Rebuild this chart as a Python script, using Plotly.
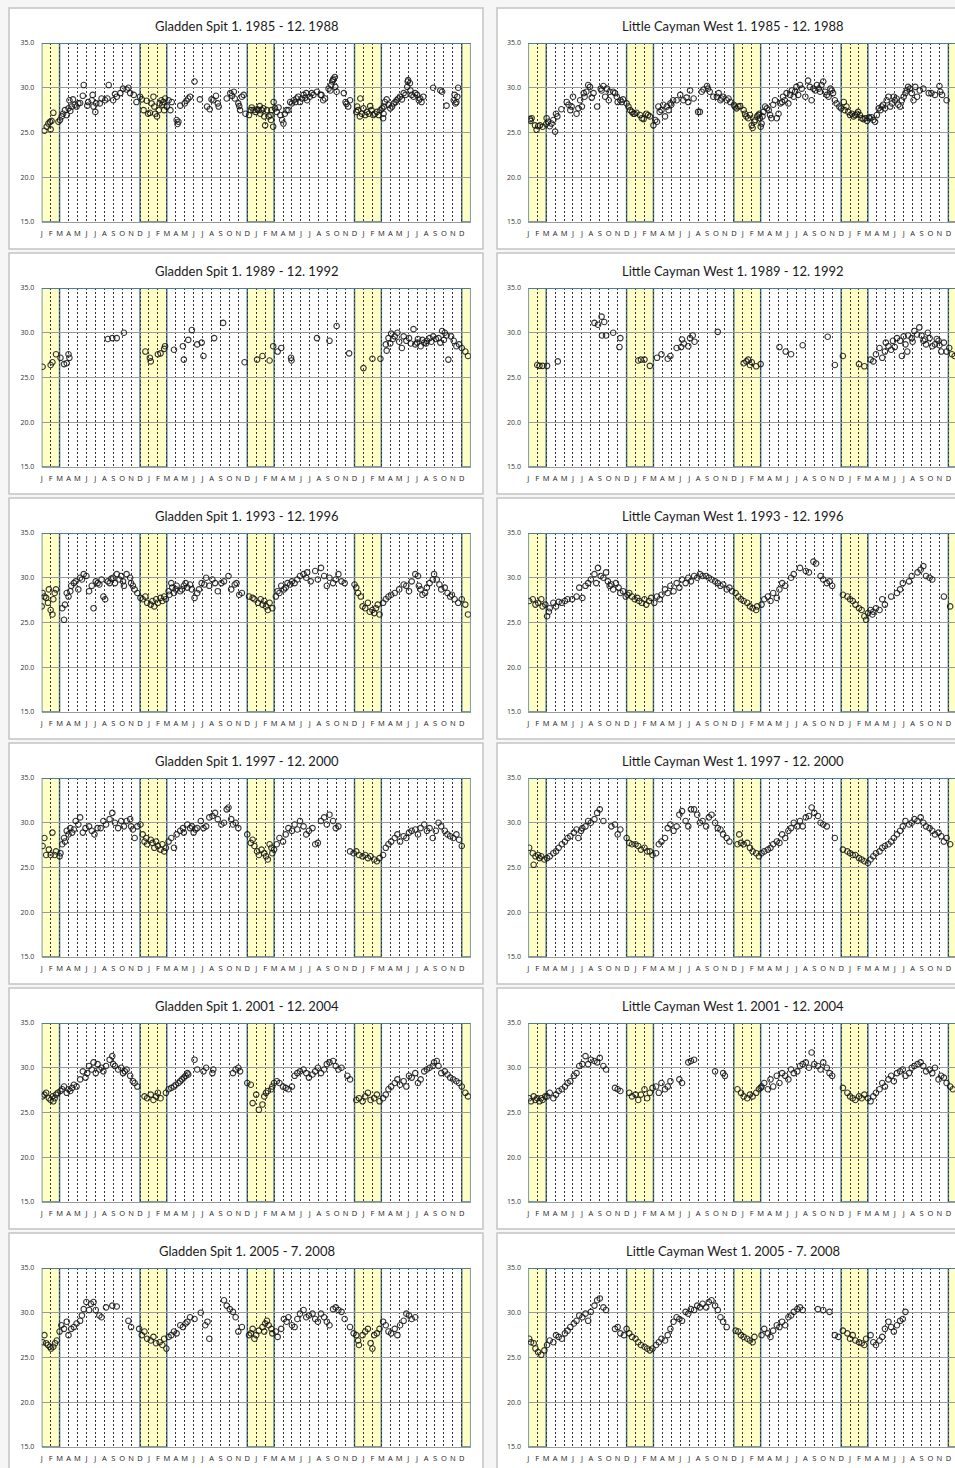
import plotly.graph_objects as go

# ---------------- data (month index from start of the 4-year window, temperature degC) ----------------
gs85_m = [0.3,0.56,0.75,0.93,1.0,1.1,1.3,1.87,2.05,2.24,2.4,2.6,2.8,3.0,3.1,3.2,3.36,3.5,3.7,3.9,4.1,4.3,4.6,4.7,5.1,5.2,5.6,5.7,5.8,6.0,6.1,6.5,6.7,7.1,7.35,7.5,8.0,8.2,8.4,8.8,9.1,9.5,9.7,9.9,10.3,10.6,
          11.0,11.2,11.4,11.75,11.9,12.1,12.3,12.5,12.6,12.7,12.9,13.1,13.2,13.4,13.5,13.6,13.7,13.8,14.0,14.2,14.4,14.55,15.1,15.2,15.3,15.5,16.0,16.2,16.4,16.6,17.1,17.7,18.5,18.8,19.0,19.2,19.5,19.7,19.8,20.7,21.1,21.3,21.5,21.6,22.0,22.1,22.2,22.4,22.6,22.8,
          23.2,23.4,23.5,23.7,23.9,24.1,24.25,24.4,24.45,24.6,24.8,24.9,25.0,25.2,25.4,25.6,25.65,25.7,25.9,25.95,26.1,26.3,26.5,26.7,26.9,27.05,27.2,27.4,27.6,27.8,28.0,28.2,28.4,28.5,28.7,28.9,29.1,29.3,29.5,29.6,29.7,30.0,30.2,30.4,30.8,31.2,31.3,31.5,31.7,32.1,32.3,32.4,32.5,32.6,32.65,32.8,32.85,33.0,33.8,34.0,34.1,34.3,34.5,
          35.2,35.3,35.4,35.6,35.65,35.8,36.0,36.2,36.4,36.6,36.75,36.9,37.1,37.3,37.5,37.7,37.9,38.1,38.2,38.25,38.3,38.4,38.6,38.8,39.0,39.2,39.4,39.6,39.7,39.9,40.1,40.3,40.5,40.7,40.9,40.95,41.0,41.2,41.25,41.4,41.6,41.8,42.0,42.2,42.35,42.5,42.7,43.8,44.6,44.8,45.3,46.1,46.2,46.3,46.4,46.5,46.6]
gs85_t = [25.2,25.65,26.0,26.2,25.35,26.3,27.2,26.2,26.4,26.8,27.1,27.5,26.95,27.7,28.6,27.4,27.9,28.7,28.1,27.9,28.25,28.3,29.1,30.3,28.0,28.4,28.6,29.2,27.9,27.3,28.25,28.25,28.8,28.6,28.8,30.3,28.6,29.3,29.0,29.4,29.9,29.8,30.0,29.4,29.2,28.4,
          29.0,28.7,27.5,28.55,27.1,27.2,28.25,29.0,27.9,27.1,26.8,27.5,28.25,28.6,28.1,28.4,27.5,28.8,27.9,28.6,27.5,28.4,26.4,25.95,26.2,28.0,28.25,28.55,28.8,29.0,30.7,28.7,27.9,27.6,28.7,28.6,29.1,28.25,27.9,28.8,29.4,29.1,29.55,28.8,28.25,27.95,27.5,29.0,29.2,27.1,
          26.95,27.5,27.8,27.5,27.3,27.6,27.5,27.95,27.1,27.5,27.7,26.8,25.8,27.5,26.8,26.95,26.4,27.5,25.65,28.4,27.7,27.3,27.8,26.95,26.4,26.0,27.1,27.5,27.5,28.4,28.25,28.6,28.4,28.8,29.0,28.4,28.8,29.2,28.9,29.4,28.6,29.0,29.4,29.2,29.55,29.2,29.2,28.6,28.8,29.9,29.7,30.3,30.7,30.85,31.0,31.2,30.1,29.55,29.4,28.4,28.2,27.9,28.6,
          27.3,27.9,27.5,26.8,28.8,27.1,27.7,26.95,27.3,27.1,27.95,27.5,26.95,27.1,27.3,26.95,27.5,27.7,26.6,27.1,27.9,28.4,28.7,28.1,27.7,27.9,28.25,28.4,28.6,28.8,29.0,28.7,29.4,29.2,30.1,30.7,30.85,30.5,29.7,29.2,29.0,29.4,29.2,28.6,28.8,28.4,29.0,30.0,29.7,29.55,28.0,28.6,29.2,28.25,28.4,29.0,30.0]

lc85_m = [0.2,0.26,0.37,0.75,0.93,1.1,1.3,1.6,2.0,2.05,2.2,2.4,2.6,2.8,3.0,3.1,3.25,3.7,4.3,4.5,4.7,4.85,5.0,5.4,5.6,5.8,6.0,6.2,6.3,6.5,6.7,6.9,7.1,7.3,7.7,8.1,8.2,8.4,8.6,8.8,9.0,9.1,9.5,9.7,9.9,10.0,10.3,10.45,10.6,
          11.0,11.2,11.4,11.6,11.75,11.9,12.1,12.5,12.7,12.9,13.2,13.4,13.6,14.0,14.2,14.4,14.55,14.7,14.9,15.1,15.3,15.5,15.7,15.9,16.0,16.2,16.6,17.0,17.35,17.7,17.9,18.1,18.5,19.0,19.2,19.4,19.6,20.0,20.1,20.3,20.7,21.1,21.3,21.5,21.6,21.8,22.2,22.4,22.6,
          23.0,23.1,23.3,23.5,23.7,24.1,24.25,24.4,24.6,24.8,25.0,25.1,25.3,25.4,25.6,25.75,25.85,25.9,26.0,26.1,26.2,26.3,26.5,26.7,26.9,27.05,27.2,27.4,27.6,27.8,28.0,28.2,28.4,28.5,28.7,28.9,29.1,29.3,29.5,29.7,29.85,30.0,30.2,30.4,30.6,31.0,31.3,31.5,31.7,31.9,32.1,32.3,32.5,32.65,32.8,33.0,33.2,33.4,33.6,33.8,33.95,34.1,34.3,34.5,34.8,
          35.0,35.3,35.4,35.6,35.8,36.0,36.2,36.4,36.6,36.75,36.9,37.1,37.3,37.5,37.7,37.9,38.1,38.2,38.4,38.6,38.8,39.0,39.2,39.4,39.55,39.7,39.9,40.1,40.3,40.5,40.7,40.9,41.0,41.2,41.4,41.6,41.8,42.0,42.2,42.35,42.5,42.7,42.9,43.1,43.3,43.5,43.8,44.2,44.8,45.1,45.5,46.0,46.1,46.3,46.8]
lc85_t = [26.5,26.3,26.6,25.8,25.3,25.7,25.8,25.65,25.95,26.6,26.2,25.7,26.0,26.4,25.1,27.1,26.8,27.6,28.4,28.1,27.5,27.9,29.0,27.1,27.7,28.6,27.9,29.4,29.0,29.55,30.3,30.1,28.9,29.4,27.9,29.9,29.7,30.2,29.0,29.9,28.6,29.55,29.55,29.4,29.0,28.4,28.6,28.4,28.7,
          28.25,27.9,27.5,27.3,27.1,27.1,27.2,26.95,26.6,26.5,27.1,26.95,26.8,25.8,26.4,26.2,27.9,27.3,27.5,28.1,26.8,27.9,27.5,28.25,28.1,28.6,28.6,29.2,28.6,28.9,28.4,29.7,28.8,27.3,27.3,29.55,29.8,30.2,29.9,29.55,29.0,29.0,29.4,28.6,28.8,29.0,28.6,28.8,28.4,
          28.1,27.9,27.7,27.9,27.95,27.5,27.1,26.8,26.6,26.95,25.8,25.5,26.2,26.4,26.8,26.95,27.1,26.6,25.65,26.0,26.8,27.3,27.9,27.7,27.5,26.95,26.6,28.1,28.6,26.6,27.1,28.25,28.4,29.0,28.6,29.4,28.25,29.2,29.7,29.0,29.55,30.1,29.2,30.3,29.9,29.0,30.8,30.1,28.6,29.9,29.7,30.3,29.9,29.55,30.3,30.7,29.55,29.2,29.0,29.9,29.7,29.4,28.6,28.25,27.9,
          27.7,28.4,27.5,27.9,27.3,26.95,27.1,26.8,26.95,27.1,27.3,26.95,26.6,26.5,26.6,26.3,26.7,26.6,26.7,26.4,26.2,26.95,27.7,27.5,27.9,28.1,27.7,28.6,29.0,27.9,28.25,29.0,28.6,28.8,28.1,27.9,28.6,29.0,29.4,29.7,30.1,29.9,29.4,28.6,30.1,29.0,29.7,29.9,29.4,29.4,29.2,30.2,29.55,29.2,28.6]

gs89_m = [0.1,1.0,1.2,1.6,2.1,2.5,2.8,3.0,3.1,7.4,7.9,8.4,9.2,11.6,12.1,12.2,13.0,13.3,13.7,13.8,14.8,15.8,15.9,16.4,16.8,17.4,17.9,18.1,19.3,20.3,
          22.7,24.1,24.7,25.5,25.9,26.4,26.8,27.9,27.95,30.8,32.2,33.0,34.4,36.0,37.0,37.9,
          38.5,38.6,38.8,39.0,39.1,39.3,39.5,39.8,40.0,40.3,40.5,40.8,41.1,41.3,41.6,41.8,42.0,42.1,42.4,42.6,42.8,43.0,43.1,43.4,43.6,43.8,44.1,44.4,44.6,44.8,45.0,45.1,45.3,45.5,45.8,46.1,46.4,46.7,47.0,47.4,47.7]
gs89_t = [26.2,26.4,26.7,27.6,27.2,26.5,26.6,27.6,27.2,29.3,29.4,29.4,30.0,27.9,27.2,26.8,27.6,27.7,28.2,28.5,28.1,28.5,27.0,29.2,30.3,28.7,28.9,27.4,29.4,31.1,
          26.7,27.0,27.4,26.9,28.5,27.9,28.3,27.2,26.9,29.4,29.1,30.75,27.7,26.05,27.1,27.1,
          28.7,28.0,29.4,28.8,29.9,29.3,29.6,30.0,29.0,28.3,29.6,29.1,29.4,28.8,30.4,28.7,28.9,29.3,28.5,29.2,28.9,28.8,29.1,29.4,29.0,29.6,29.3,29.4,28.9,30.2,29.2,30.0,29.7,27.0,29.6,29.1,28.5,28.7,28.3,27.9,27.4]

lc89_m = [1.0,1.25,1.6,2.1,3.3,7.4,7.8,8.2,8.5,8.25,8.7,9.5,10.2,10.3,12.3,12.6,13.0,13.6,14.4,14.9,15.6,15.9,16.6,17.1,17.2,17.4,17.9,18.1,18.4,18.6,21.2,
          24.1,24.4,24.6,24.8,25.0,25.5,26.0,28.1,28.8,29.4,30.7,33.5,34.3,35.2,37.0,37.6,
          38.3,38.6,38.9,39.3,39.6,39.9,40.0,40.3,40.6,40.8,41.0,41.25,41.6,41.8,42.0,42.2,42.4,42.5,42.9,43.0,43.2,43.5,43.75,44.0,44.2,44.4,44.5,44.7,44.9,45.2,45.5,45.7,45.9,46.0,46.2,46.5,46.8,47.1,47.4,47.7]
lc89_t = [26.4,26.3,26.3,26.3,26.8,31.1,30.9,31.8,31.2,29.7,29.7,30.0,28.4,29.4,26.9,27.0,27.0,26.3,27.2,27.6,27.1,27.4,28.3,28.4,29.25,28.8,28.5,29.4,29.7,29.0,30.1,
          26.6,26.8,27.0,26.4,26.7,26.25,26.5,28.4,27.9,27.6,28.6,29.55,26.4,27.4,26.5,26.25,
          27.0,26.8,27.6,28.3,27.2,27.9,28.9,28.5,28.1,29.1,28.4,29.4,29.1,27.4,29.6,28.7,27.9,29.7,29.4,29.0,30.2,29.8,30.6,29.7,29.1,29.25,28.7,30.0,29.4,28.5,28.7,29.3,29.1,28.6,27.9,28.9,27.9,28.3,27.6,27.4]

gs93_m = [0.0,0.1,0.3,0.5,0.7,0.8,1.0,1.2,1.3,1.45,1.6,2.3,2.5,2.6,2.8,3.0,3.2,3.3,3.6,3.8,4.1,4.3,4.5,4.7,5.0,5.3,5.6,5.8,6.05,6.25,6.45,6.7,6.9,7.1,7.4,7.6,7.8,8.0,8.2,8.4,8.7,8.9,9.1,9.2,9.5,9.9,10.0,10.2,10.4,10.7,
          11.05,11.3,11.6,11.8,12.2,12.4,12.6,12.8,13.0,13.3,13.5,13.7,13.9,14.2,14.3,14.5,14.6,14.8,15.0,15.1,15.5,15.7,15.9,16.1,16.3,16.6,16.8,17.1,17.4,17.6,17.9,18.2,18.4,18.75,19.1,19.4,19.7,20.1,20.4,20.9,21.2,21.6,21.8,22.1,22.4,
          23.2,23.6,23.8,24.2,24.5,24.7,24.9,25.1,25.3,25.5,25.8,26.2,26.4,26.6,26.8,27.1,27.3,27.5,27.8,28.0,28.3,28.6,28.9,29.3,29.6,29.7,30.1,30.6,30.9,31.25,31.6,31.9,32.2,32.6,32.9,33.2,33.55,33.9,
          35.0,35.2,35.4,35.7,35.9,36.2,36.5,36.7,37.0,37.2,37.4,37.6,37.8,38.2,38.5,38.8,39.1,39.5,40.0,40.5,40.8,41.1,41.4,41.8,42.1,42.2,42.4,42.6,42.9,43.1,43.4,43.75,43.9,44.2,44.5,44.7,45.1,45.4,45.7,45.9,46.2,46.6,47.0,47.4,47.7]
gs93_t = [26.8,28.3,27.9,27.75,27.2,28.7,26.4,25.9,27.6,28.3,28.7,26.6,25.3,27.0,28.3,27.9,28.5,29.1,29.4,29.6,28.7,30.0,29.8,30.4,30.2,28.5,29.1,26.6,29.6,29.4,29.25,29.8,27.9,27.6,29.6,29.4,29.9,30.0,29.4,30.4,29.8,30.2,29.6,29.1,30.4,30.0,29.4,29.1,28.7,28.3,
          27.75,27.6,27.9,27.2,27.0,27.4,26.8,27.6,27.2,27.75,27.4,27.9,27.6,28.5,28.1,29.4,28.9,28.3,28.7,29.1,28.5,28.7,29.1,29.4,28.9,29.25,28.7,27.75,28.3,28.7,29.4,29.25,30.0,29.1,29.8,29.4,28.5,29.4,29.6,30.2,28.7,29.25,29.4,28.1,28.3,
          27.9,27.75,27.6,27.2,27.6,27.0,27.4,26.8,26.4,27.2,26.6,27.9,28.5,28.3,29.1,28.7,28.9,29.4,29.25,29.6,29.4,29.8,30.2,30.4,30.0,30.6,29.6,30.75,29.8,31.1,30.2,29.1,30.0,29.4,29.8,30.4,29.6,29.4,
          29.25,28.9,28.3,27.9,26.8,26.6,27.2,26.2,26.4,26.05,26.6,27.0,25.9,27.2,27.6,27.9,28.1,28.3,28.7,29.25,29.1,28.5,29.6,30.4,30.2,29.1,28.7,28.1,28.3,28.9,29.4,29.8,30.4,29.8,29.25,28.7,28.9,28.3,27.9,28.1,27.6,27.2,27.6,27.0,25.9]

lc93_m = [0.1,0.5,0.8,1.1,1.45,1.6,1.9,2.1,2.3,2.4,2.8,3.1,3.4,3.75,4.1,4.4,4.9,5.4,5.7,6.05,6.4,6.7,7.0,7.4,7.6,7.8,8.1,8.4,8.7,8.9,9.1,9.3,9.5,9.8,10.1,10.3,10.6,10.9,
          11.1,11.3,11.6,11.9,12.2,12.4,12.7,13.0,13.2,13.5,13.75,14.1,14.4,14.7,14.9,15.3,15.6,15.9,16.25,16.6,16.9,17.2,17.6,17.9,18.2,18.55,18.9,19.2,19.5,19.9,20.2,20.5,20.9,21.2,21.5,21.8,22.2,22.5,22.8,
          23.2,23.5,23.8,24.1,24.5,24.8,25.1,25.5,25.6,26.1,26.4,26.8,27.1,27.4,27.8,28.1,28.4,28.75,29.4,29.7,30.4,31.05,31.4,31.9,32.2,32.7,33.0,33.4,33.7,34.0,
          35.2,35.7,36.0,36.3,36.6,37.0,37.3,37.6,37.8,38.0,38.3,38.5,38.6,38.9,39.3,39.6,39.9,40.6,41.25,41.6,41.9,42.6,42.9,43.55,43.9,44.2,44.5,44.9,45.2,46.5,47.2]
lc93_t = [27.4,27.6,27.0,27.2,27.6,26.8,27.0,25.7,26.2,26.6,27.2,26.8,27.3,27.2,27.4,27.6,27.6,27.9,28.9,27.75,29.1,29.4,29.8,30.4,29.4,31.1,30.2,30.0,30.6,29.6,29.1,29.25,28.7,29.4,28.9,28.3,28.5,27.9,
          28.1,28.3,27.9,27.6,27.75,27.4,27.2,27.6,27.0,27.4,27.75,27.2,27.9,27.6,28.1,28.7,28.3,29.1,28.5,29.4,28.9,29.8,29.4,30.0,29.6,30.2,30.0,30.4,30.2,30.2,30.0,29.8,29.6,29.4,29.1,29.25,28.7,28.9,28.5,
          28.3,27.9,27.6,27.4,27.2,26.8,26.6,26.4,26.8,27.0,27.6,27.9,27.4,28.3,27.75,28.7,29.4,29.1,30.0,30.4,31.1,30.75,30.6,31.8,31.6,30.2,29.8,29.4,29.6,29.1,
          28.1,27.9,27.6,27.4,27.0,26.6,26.4,25.7,25.3,26.05,26.4,25.9,26.2,26.6,26.4,27.6,27.0,27.9,28.3,28.7,29.4,29.6,30.2,30.6,30.9,31.3,30.2,30.0,29.8,27.9,26.8]

gs97_m = [0.1,0.3,0.5,0.8,1.0,1.2,1.45,1.6,2.0,2.1,2.3,2.5,2.6,2.8,3.0,3.2,3.4,3.6,3.8,4.1,4.3,4.6,4.9,5.3,5.6,5.9,6.25,6.6,6.9,7.2,7.6,7.9,8.2,8.55,8.9,9.2,9.5,9.9,10.0,10.2,10.4,10.7,
          11.05,11.3,11.5,11.7,11.8,12.2,12.4,12.6,12.8,13.0,13.3,13.5,13.7,13.9,14.2,14.5,14.8,15.1,15.5,15.8,15.9,16.3,16.6,16.8,17.0,17.2,17.4,17.8,18.1,18.4,18.75,19.1,19.4,19.7,20.1,20.4,20.7,20.9,21.2,21.4,21.7,22.0,
          23.0,23.4,23.6,23.8,24.1,24.3,24.6,24.9,25.1,25.3,25.5,25.7,25.8,26.0,26.3,26.6,27.0,27.3,27.6,28.0,28.3,28.6,28.9,29.3,29.6,29.9,30.3,30.6,30.9,31.25,31.6,31.9,32.2,32.6,32.9,33.2,
          34.5,34.9,35.2,35.5,35.9,36.2,36.5,36.8,37.2,37.5,37.8,38.2,38.5,38.8,39.1,39.5,39.8,40.1,40.5,40.8,41.1,41.4,41.8,42.1,42.4,42.8,43.1,43.4,43.75,44.1,44.4,44.7,45.1,45.4,45.7,46.05,46.4,46.7,47.0]
gs97_t = [27.4,28.3,26.4,27.0,26.4,28.9,26.4,26.8,26.25,26.6,27.6,28.3,27.9,29.1,28.7,29.4,28.9,29.25,30.2,29.8,30.6,28.9,29.4,29.6,29.1,28.7,29.4,29.4,30.2,29.8,30.4,31.1,30.0,29.4,30.2,29.6,30.2,30.4,29.6,29.25,28.3,29.6,
          29.8,28.7,27.9,28.3,27.6,28.1,27.75,27.2,27.9,27.4,27.0,27.6,26.8,27.2,27.9,28.3,27.2,28.7,29.1,29.4,28.9,29.8,29.4,29.6,28.9,29.25,29.4,30.2,29.4,29.6,30.6,30.75,31.1,30.4,29.8,30.0,31.5,31.7,30.4,29.8,30.0,29.4,
          28.7,27.75,28.1,27.4,26.8,26.4,27.0,26.6,26.25,25.9,27.6,27.2,26.6,27.0,27.6,28.3,27.9,28.7,29.4,29.1,29.8,29.25,30.2,29.6,28.7,29.1,29.4,27.6,27.75,30.2,30.6,29.8,30.9,30.2,29.4,29.6,
          26.8,26.6,26.8,26.4,26.25,26.4,26.05,26.25,25.9,25.7,26.05,26.4,27.2,27.6,27.9,28.3,28.7,27.9,28.5,28.3,28.9,29.1,29.25,28.7,29.4,29.8,29.1,29.4,28.3,29.1,30.0,29.6,29.1,28.7,28.5,28.3,28.7,28.1,27.4]

lc97_m = [0.1,0.5,0.6,0.8,1.1,1.25,1.45,1.8,2.1,2.4,2.8,3.1,3.4,3.75,4.1,4.4,4.7,5.1,5.4,5.6,5.9,6.05,6.4,6.7,7.0,7.4,7.7,8.0,8.4,9.3,9.7,10.0,10.3,
          11.0,11.3,11.6,12.0,12.3,12.6,13.0,13.3,13.6,13.9,14.3,14.6,14.9,15.3,15.6,15.9,16.25,16.6,16.9,17.2,17.6,17.9,18.2,18.55,18.9,19.2,19.5,19.9,20.2,20.5,20.9,21.2,21.5,21.8,22.2,22.5,
          23.4,23.6,23.8,24.1,24.5,24.8,25.1,25.5,25.8,26.1,26.4,26.8,27.1,27.4,27.8,28.1,28.4,28.75,29.1,29.4,29.7,30.1,30.4,30.7,31.05,31.4,31.7,32.0,32.4,32.7,33.0,33.4,34.3,
          35.2,35.7,36.0,36.3,36.6,37.0,37.3,37.6,38.0,38.3,38.6,38.9,39.3,39.6,39.9,40.3,40.6,40.9,41.25,41.6,41.9,42.2,42.6,42.9,43.2,43.55,43.9,44.2,44.5,44.9,45.2,45.5,45.9,46.2,46.5,46.8,47.2]
lc97_t = [27.2,26.6,25.3,26.25,26.4,26.05,26.25,25.9,26.05,26.25,26.6,26.8,27.2,27.6,27.9,28.3,28.5,28.9,29.25,28.3,29.1,29.4,29.6,30.2,30.0,30.4,31.1,31.5,30.2,29.6,29.8,28.7,29.25,
          28.3,27.75,27.6,27.6,27.4,27.0,27.2,26.8,26.8,26.4,26.6,27.6,27.9,28.3,29.4,29.8,29.1,29.6,30.9,31.3,30.2,29.6,31.5,31.5,30.9,30.0,30.2,29.6,30.6,30.9,30.0,29.4,29.25,28.7,28.3,27.9,
          27.6,28.7,27.75,27.6,27.75,27.2,26.8,26.6,26.25,26.6,26.8,27.0,27.2,27.6,27.9,27.75,28.7,28.3,29.1,29.4,30.0,29.6,30.2,29.6,30.6,30.75,31.7,31.1,30.75,30.0,29.8,29.6,28.3,
          27.0,26.8,26.6,26.4,26.4,26.05,25.9,25.7,25.5,25.9,26.25,26.6,26.8,27.2,27.4,27.6,27.9,28.3,28.7,29.1,29.6,30.2,29.8,30.0,30.4,30.2,30.6,30.0,29.6,29.4,29.1,28.7,28.9,28.5,27.9,28.3,27.6]

gs01_m = [0.1,0.3,0.5,0.8,1.0,1.2,1.3,1.45,1.6,1.8,2.1,2.3,2.5,2.8,3.0,3.2,3.4,3.6,3.9,4.3,4.6,4.9,5.1,5.3,5.6,5.8,6.05,6.25,6.45,6.7,6.9,7.2,7.6,7.9,8.0,8.2,8.55,8.9,9.1,9.3,9.5,9.9,10.2,10.4,10.7,
          11.5,11.8,12.2,12.5,12.8,13.0,13.3,13.9,14.2,14.5,14.8,15.0,15.3,15.5,15.7,15.9,16.1,16.3,16.4,17.1,17.4,18.1,18.4,19.1,19.2,21.4,21.7,22.0,22.2,
          23.0,23.4,23.6,24.0,24.3,24.7,24.9,25.1,25.3,25.7,25.8,26.0,26.3,26.6,27.0,27.3,27.6,28.0,28.3,28.6,28.9,29.3,29.6,29.9,30.3,30.6,30.9,31.25,31.6,31.9,32.2,32.6,32.9,33.2,33.55,34.2,34.5,
          35.2,35.5,35.9,36.2,36.5,36.8,37.2,37.5,37.8,38.2,38.5,38.8,39.1,39.5,39.8,40.1,40.5,40.8,41.1,41.4,41.8,42.1,42.4,42.8,43.1,43.4,43.75,43.9,44.2,44.4,44.7,45.1,45.4,45.7,46.05,46.4,46.7,47.0,47.4,47.7]
gs01_t = [26.8,27.0,27.2,26.6,26.4,26.8,26.25,26.6,27.0,27.2,27.4,27.6,27.9,27.2,27.6,27.4,27.75,28.1,27.9,28.7,29.6,28.9,29.4,30.2,29.8,30.6,29.4,30.4,29.8,30.0,29.6,30.2,30.9,31.3,30.4,30.2,29.8,30.0,29.4,29.6,29.8,29.1,28.5,28.3,27.9,
          26.8,26.6,27.0,26.4,26.8,27.2,26.6,27.2,27.6,27.75,27.9,28.1,28.3,28.5,28.7,28.9,29.1,29.4,29.25,30.9,29.8,29.6,30.0,29.4,29.8,29.4,29.8,30.0,29.6,
          28.3,28.1,26.05,27.0,25.3,25.9,26.8,27.2,27.4,27.6,27.9,28.3,28.5,28.3,27.9,27.75,27.6,27.9,29.1,29.4,29.6,29.8,29.4,28.9,29.25,29.6,30.0,29.4,29.8,30.4,30.6,30.75,30.2,29.8,30.0,29.1,28.7,
          26.4,26.6,26.25,26.8,27.2,26.4,26.6,27.0,26.25,26.6,27.0,27.6,27.9,28.3,28.7,28.1,28.5,27.9,29.1,28.9,29.4,28.3,28.7,29.6,29.8,30.0,30.2,30.6,30.75,30.2,29.4,29.6,29.25,28.9,28.7,28.5,28.3,27.9,27.2,26.8]

lc01_m = [0.1,0.3,0.6,0.8,1.0,1.25,1.45,1.6,1.9,2.1,2.4,2.8,3.1,3.4,3.75,4.1,4.4,4.7,5.1,5.4,5.7,6.05,6.4,6.7,7.0,7.4,7.7,8.0,8.4,8.7,9.7,10.0,10.3,
          11.3,11.6,12.0,12.3,12.6,13.0,13.3,13.6,13.9,14.3,14.6,14.9,15.3,15.6,15.9,16.9,17.2,17.9,18.2,18.55,20.9,21.8,22.0,
          23.4,23.8,24.1,24.5,24.8,25.1,25.5,25.8,26.0,26.1,26.4,26.8,27.1,27.4,27.8,28.1,28.4,28.75,29.1,29.4,29.7,30.1,30.4,30.7,31.05,31.4,31.7,32.0,32.4,32.7,33.0,33.4,33.7,34.0,
          35.2,35.7,36.0,36.3,36.6,37.0,37.3,37.6,38.0,38.3,38.6,38.9,39.3,39.6,39.9,40.3,40.6,40.9,41.25,41.6,41.9,42.2,42.6,42.9,43.2,43.55,43.9,44.2,44.5,44.9,45.2,45.5,45.9,46.2,46.5,46.8,47.2,47.5]
lc01_t = [26.6,26.25,26.8,26.4,26.6,26.25,26.6,26.4,26.8,26.8,27.2,26.6,27.0,27.4,27.6,27.9,28.3,28.5,29.1,29.4,30.2,30.4,31.3,30.4,30.9,30.75,30.6,31.1,30.2,29.8,27.75,27.6,27.4,
          27.2,26.8,27.0,26.4,27.0,27.6,26.6,27.2,27.75,27.9,27.2,28.3,27.6,27.9,28.5,28.7,28.3,30.6,30.75,30.9,29.6,29.4,29.1,
          27.6,27.2,26.8,26.6,27.0,26.8,27.2,27.6,27.75,27.9,28.3,27.6,28.7,27.9,29.1,28.3,29.4,29.1,28.7,29.8,29.4,29.6,30.2,30.4,30.6,30.0,31.7,30.4,30.2,29.8,30.6,30.0,29.4,29.1,
          27.75,27.2,26.8,26.6,26.4,26.8,26.6,27.0,26.6,26.25,26.8,27.2,27.6,28.3,27.9,28.7,29.1,28.5,29.4,29.6,29.8,29.1,29.4,30.0,30.2,30.4,30.6,30.2,29.6,29.8,29.4,30.0,28.7,29.1,28.9,28.3,27.9,27.6]

gs05_m = [0.1,0.3,0.5,0.7,0.9,1.05,1.3,1.5,1.7,2.0,2.2,2.5,2.8,3.0,3.3,3.6,3.9,4.3,4.5,4.7,5.0,5.3,5.5,5.8,6.05,6.45,6.7,7.2,7.9,8.4,9.7,10.0,
          10.9,11.2,11.5,11.8,12.2,12.5,12.8,13.2,13.5,13.7,13.95,14.2,14.5,14.8,15.1,15.5,15.8,16.1,16.3,16.6,17.1,17.8,18.3,18.55,18.75,20.4,20.7,21.05,21.4,21.7,22.0,22.4,
          23.2,23.4,23.6,23.8,24.0,24.3,24.7,24.9,25.0,25.2,25.4,25.7,25.8,26.2,26.4,26.8,27.1,27.4,27.6,28.0,28.3,28.6,28.9,29.3,29.6,29.9,30.3,30.6,30.9,31.25,31.6,31.9,32.2,32.6,32.9,33.2,33.55,33.9,
          34.5,34.9,35.2,35.4,35.5,35.9,36.2,36.5,36.8,37.0,37.2,37.5,37.8,38.2,38.5,38.8,39.1,39.5,39.8,40.1,40.5,40.8,41.1,41.4,41.8]
gs05_t = [26.7,27.5,26.6,26.4,26.2,26.0,26.2,26.6,26.9,27.9,28.6,28.2,29.0,27.5,28.2,28.4,28.8,29.1,29.7,30.4,31.2,30.3,31.0,31.2,30.3,29.7,29.5,30.6,30.8,30.7,29.1,28.4,
          28.2,27.5,27.9,27.1,26.9,27.3,26.6,26.7,26.4,27.1,26.0,27.3,27.5,27.9,27.7,28.6,28.4,28.8,29.0,29.5,29.3,30.0,28.6,29.0,27.1,31.4,30.8,30.4,30.1,29.5,27.9,28.4,
          27.5,27.7,28.2,27.1,27.5,28.0,28.4,27.9,28.8,29.1,28.6,28.2,27.7,27.9,27.3,28.2,29.3,29.0,29.5,28.6,28.4,29.3,29.9,30.3,29.5,29.7,29.9,29.3,29.0,29.9,29.5,29.0,28.6,30.4,30.6,30.3,30.1,29.3,
          28.4,27.7,27.5,26.9,26.4,27.5,27.9,28.2,26.6,26.0,27.5,27.7,28.2,29.0,28.6,27.9,27.7,28.2,27.5,28.6,29.1,29.9,29.7,29.3,29.5]

lc05_m = [0.1,0.3,0.6,0.8,1.1,1.45,1.8,2.1,2.4,2.8,3.1,3.4,3.75,4.1,4.4,4.7,5.1,5.4,5.7,6.05,6.4,6.7,7.0,7.4,7.7,8.0,8.4,8.7,9.7,10.0,10.3,10.7,
          11.0,11.3,11.6,12.0,12.3,12.6,13.0,13.3,13.6,13.9,14.3,14.6,14.9,15.3,15.6,15.9,16.25,16.6,16.9,17.2,17.6,17.9,18.2,18.55,18.9,19.2,19.5,19.9,20.2,20.5,20.9,21.2,21.5,21.8,22.2,
          23.2,23.5,23.8,24.1,24.5,24.8,25.1,25.3,26.1,26.4,26.8,27.1,27.4,27.8,28.1,28.4,28.75,29.1,29.4,29.7,30.1,30.4,30.7,32.4,33.0,33.7,
          34.3,34.7,35.2,35.7,36.0,36.3,36.6,37.0,37.3,37.6,37.8,38.3,38.6,38.9,39.3,39.6,39.9,40.3,40.6,40.9,41.25,41.6,41.9,42.2]
lc05_t = [27.1,26.7,26.6,26.0,25.6,25.3,25.8,26.4,26.9,26.7,27.5,27.3,27.1,27.7,28.0,28.4,28.8,29.1,29.7,29.5,29.9,29.1,30.1,30.8,31.4,31.6,30.6,30.3,28.2,28.4,27.7,27.5,
          28.2,27.7,27.3,27.1,26.7,26.4,26.2,26.0,25.8,26.0,26.4,26.7,27.1,26.9,27.5,28.2,29.0,29.5,29.3,29.1,30.1,29.9,30.4,30.3,30.8,30.6,31.0,30.6,31.2,31.4,30.8,30.3,29.5,29.0,28.4,
          28.0,27.9,27.5,27.3,27.1,26.9,26.7,27.3,27.5,28.2,27.7,27.3,28.0,28.6,28.4,29.0,28.6,29.5,29.7,30.1,30.4,30.6,30.3,30.4,30.3,30.1,
          27.5,27.3,28.0,27.7,27.1,27.5,26.9,26.7,26.6,26.4,27.1,27.5,26.7,26.4,26.9,27.3,28.2,29.0,28.4,27.9,28.6,29.1,29.3,30.1]

month_labels = ["J", "F", "M", "A", "M", "J", "J", "A", "S", "O", "N", "D"] * 4
y_ticks = [15, 20, 25, 30, 35]
band_start = [0, 11, 23, 35, 47]
band_end = [2, 14, 26, 38, 48]

left_titles = ["Gladden Spit 1. 1985 - 12. 1988", "Gladden Spit 1. 1989 - 12. 1992",
               "Gladden Spit 1. 1993 - 12. 1996", "Gladden Spit 1. 1997 - 12. 2000",
               "Gladden Spit 1. 2001 - 12. 2004", "Gladden Spit 1. 2005 - 7. 2008"]
right_titles = ["Little Cayman West 1. 1985 - 12. 1988", "Little Cayman West 1. 1989 - 12. 1992",
                "Little Cayman West 1. 1993 - 12. 1996", "Little Cayman West 1. 1997 - 12. 2000",
                "Little Cayman West 1. 2001 - 12. 2004", "Little Cayman West 1. 2005 - 7. 2008"]

left_series = [(gs85_m, gs85_t), (gs89_m, gs89_t), (gs93_m, gs93_t),
               (gs97_m, gs97_t), (gs01_m, gs01_t), (gs05_m, gs05_t)]
right_series = [(lc85_m, lc85_t), (lc89_m, lc89_t), (lc93_m, lc93_t),
                (lc97_m, lc97_t), (lc01_m, lc01_t), (lc05_m, lc05_t)]

# ---------------- layout geometry (pixels) ----------------
W, H = 955, 1468
MONTH_PX = 429 / 48.0
PLOT_W = 429
PLOT_H = 179
ROW_PITCH = 245
COL_LEFT = [41.7, 528.3]
TOP0 = 43

BAND_FILL = "#ffffc6"
BAND_LINE = "#4f7c90"
MARK = "rgba(20,20,20,0.85)"

fig = go.Figure()
shapes = []
annotations = []

# panel boxes
for r in range(6):
    y0 = 8 + ROW_PITCH * r
    y1 = 249 + ROW_PITCH * r
    for (bx0, bx1) in [(9, 483), (497, 975)]:
        shapes.append(dict(type="rect", xref="paper", yref="paper",
                           x0=bx0 / W, x1=bx1 / W, y0=1 - y1 / H, y1=1 - y0 / H,
                           line=dict(color="#c4c4c4", width=1.5), fillcolor="white", layer="below"))

idx = 0
for r in range(6):
    top = TOP0 + ROW_PITCH * r
    bottom = top + PLOT_H
    for c in range(2):
        idx += 1
        xa = "x" if idx == 1 else f"x{idx}"
        ya = "y" if idx == 1 else f"y{idx}"
        left = COL_LEFT[c]
        right = min(left + PLOT_W, W)
        xmax = (right - left) / MONTH_PX
        xm, yt = (left_series if c == 0 else right_series)[r]
        title = (left_titles if c == 0 else right_titles)[r]

        fig.add_trace(go.Scatter(
            x=xm, y=yt, mode="markers", xaxis=xa, yaxis=ya, showlegend=False,
            marker=dict(symbol="circle-open", size=5.5, color=MARK,
                        line=dict(width=1.1, color=MARK)),
            hoverinfo="skip"))

        xkey = "xaxis" if idx == 1 else f"xaxis{idx}"
        ykey = "yaxis" if idx == 1 else f"yaxis{idx}"
        fig.layout[xkey] = dict(
            domain=[left / W, right / W], range=[0, xmax], anchor=ya,
            tickmode="array", tickvals=list(range(48)), ticktext=month_labels,
            showgrid=True, gridcolor="#333333", gridwidth=1, griddash="2px,2px",
            zeroline=False, showline=True, linecolor="#9a9a9a", linewidth=1,
            ticks="outside", ticklen=4, tickcolor="rgba(0,0,0,0)",
            tickfont=dict(family="Open Sans", size=7.5, color="#222222"),
            fixedrange=True, automargin=False)
        fig.layout[ykey] = dict(
            domain=[1 - bottom / H, 1 - top / H], range=[15, 35], anchor=xa,
            tickmode="array", tickvals=y_ticks, ticktext=[f"{v:.1f}" for v in y_ticks],
            showgrid=True, gridcolor="#9a9a9a", gridwidth=1,
            zeroline=False, showline=False,
            ticks="outside", ticklen=5, tickcolor="rgba(0,0,0,0)",
            tickfont=dict(family="Open Sans", size=7, color="#333333"),
            fixedrange=True, automargin=False)

        # yellow seasonal bands
        for bs, be in zip(band_start, band_end):
            shapes.append(dict(type="rect", xref=xa, yref=ya, x0=bs, x1=be, y0=15, y1=35,
                               fillcolor=BAND_FILL, line=dict(color=BAND_LINE, width=1.5),
                               layer="below"))
        # top frame line
        shapes.append(dict(type="line", xref=xa, yref=ya, x0=0, x1=48, y0=35, y1=35,
                           line=dict(color=BAND_LINE, width=2), layer="above"))

        cx = (246.5 if c == 0 else 733) / W
        cy = 1 - (26 + ROW_PITCH * r) / H
        annotations.append(dict(text=title, xref="paper", yref="paper", x=cx, y=cy,
                                xanchor="center", yanchor="middle", showarrow=False,
                                font=dict(family="Lato", size=13, color="#1a1a1a")))

fig.update_layout(
    width=W, height=H, margin=dict(l=0, r=0, t=0, b=0),
    paper_bgcolor="#f6f6f6", plot_bgcolor="rgba(0,0,0,0)",
    template="none", showlegend=False,
    shapes=shapes, annotations=annotations)

fig.write_html("out.html", config={"displayModeBar": False, "staticPlot": True},
               post_script="document.body.style.margin='0';document.body.style.overflow='hidden';")
